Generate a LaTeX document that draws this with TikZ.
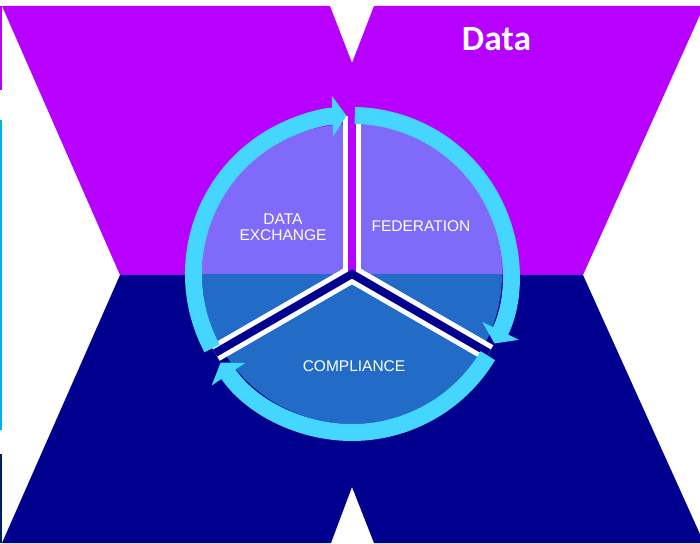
\documentclass[tikz,border=0pt]{standalone}
\usepackage{fontspec}
\setmainfont{Liberation Sans}
\newfontfamily\titlefont{Carlito}
\usetikzlibrary{arrows.meta}
\definecolor{vivid}{RGB}{183,0,255}
\definecolor{deepnavy}{RGB}{0,0,143}
\definecolor{ringcyan}{RGB}{69,214,255}
\definecolor{upperdisk}{RGB}{128,106,250}
\definecolor{lowerdisk}{RGB}{34,108,200}
\definecolor{barcyan}{RGB}{0,176,240}
\definecolor{barnavy}{RGB}{0,32,96}
\tikzset{every node/.style={font=\fontsize{15.5}{16.5}\selectfont,text=white,
    align=center,inner sep=0pt},
  ringarrow/.style={ringcyan,line width=17pt,-{Triangle[length=14pt,width=40pt]}},
  dividerrim/.style={white,line width=18pt,line join=miter},
  dividergap/.style={line width=8pt,line join=miter}}

\begin{document}
\begin{tikzpicture}[x=1pt,y=1pt]
  \fill[white] (0,0) rectangle (700,543);
  \useasboundingbox (0,0) rectangle (700,543);
  % bow-tie background
  \fill[vivid] (2,537) -- (330,537) -- (352,480) -- (374,537) -- (704,537)
    -- (583,268) -- (120,268) -- cycle;
  \fill[deepnavy] (120,268) -- (583,268) -- (704,0) -- (374,0) -- (352,56)
    -- (331,0) -- (2,0) -- cycle;
  % bars at the left edge
  \fill[vivid] (0,453) rectangle (2,537);
  \fill[barcyan] (0,113) rectangle (2,423);
  \fill[barnavy] (0,0) rectangle (2,89);
  % disk
  \coordinate (c) at (352,269);
  \begin{scope}
    \clip (0,268) rectangle (700,543);
    \fill[upperdisk] (c) circle[radius=150];
  \end{scope}
  \begin{scope}
    \clip (0,0) rectangle (700,268);
    \fill[lowerdisk] (c) circle[radius=150];
  \end{scope}
  % dividers
  \path (c) ++(90:158) coordinate (d1);
  \path (c) ++(210:158) coordinate (d2);
  \path (c) ++(330:158) coordinate (d3);
  \draw[dividerrim] (c) -- (d1);
  \draw[dividerrim] (d2) -- (c) -- (d3);
  \draw[dividergap,vivid] (c) -- (d1);
  \draw[dividergap,deepnavy] (d2) -- (c) -- (d3);
  % ring of arrows
  \foreach \s/\e in {208/92, 89/-26, -31/-146}
    \draw[ringarrow] (c) ++(\s:158.5) arc[start angle=\s,end angle=\e,radius=158.5];
  % labels
  \node (exchange) at (283,316) {DATA\\EXCHANGE};
  \node (federation) at (421,317) {FEDERATION};
  \node (compliance) at (354,177) {COMPLIANCE};
  \node[font=\titlefont\bfseries\fontsize{35.5}{40}\selectfont] (data) at (496.5,503.5) {Data};
\end{tikzpicture}
\end{document}
